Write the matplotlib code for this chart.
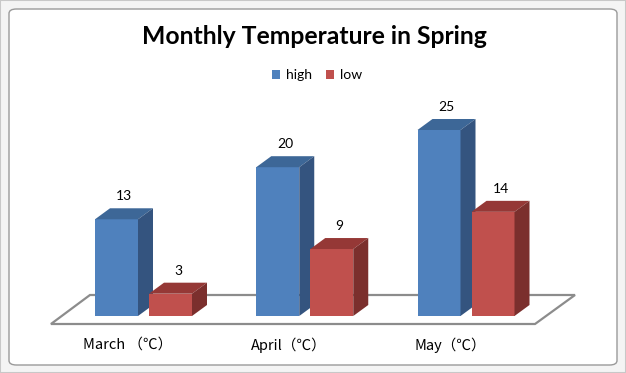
import numpy as np
import matplotlib.pyplot as plt
from matplotlib.patches import Polygon, FancyBboxPatch, Rectangle

# data
months = ['March （℃）', 'April（℃）', 'May（℃）']
high = [13, 20, 25]
low = [3, 9, 14]
series_names = ['high', 'low']

W, H = 626, 373
fig = plt.figure(figsize=(W / 100, H / 100), dpi=100)
fonts = ['Lato', 'Noto Sans CJK SC', 'DejaVu Sans']
cjk = ['Noto Sans CJK SC', 'DejaVu Sans']

# chart frame (excel style selection border)
fig.patches.append(Rectangle((0, 0), 1, 1, transform=fig.transFigure,
                             facecolor='#f4f4f4', edgecolor='#c8c8c8', lw=1.5, zorder=-2))
fig.patches.append(FancyBboxPatch((9 / W, 8 / H), 608 / W, 356 / H,
                                  boxstyle='round,pad=0,rounding_size=0.012',
                                  transform=fig.transFigure, facecolor='white',
                                  edgecolor='#9a9a9a', lw=1.0, zorder=-1))

ax = fig.add_axes([0, 0, 1, 1])
ax.patch.set_visible(False)
ax.set_axis_off()
# pixel mapping: category 0 centre at x=143.5px, 161.25 px per category;
# baseline at 316px from top, 7.44 px per degree
xpx, ypx = 161.25, 7.44
ax.set_xlim(-143.5 / xpx, (W - 143.5) / xpx)
ax.set_ylim(-(H - 316) / ypx, 316 / ypx)

x = np.arange(len(months))
bw = 43 / xpx
off = 27 / xpx
dx = 15 / xpx
dy = 11 / ypx

# floor
floor = Polygon([(-0.574, -8 / ypx), (2.428, -8 / ypx),
                 (2.676, 21 / ypx), (-0.332, 21 / ypx)],
                closed=True, facecolor='white', edgecolor='#8c8c8c', lw=1.6, zorder=2)
ax.add_patch(floor)

colors = {
    'high': ('#4f81bd', '#3d6797', '#34547f'),
    'low': ('#c0504d', '#953836', '#7b2f2d'),
}

for name, vals, sign in [('high', high, -1), ('low', low, 1)]:
    front, top, side = colors[name]
    xc = x + sign * off
    ax.bar(xc, vals, width=bw, color=front, zorder=3, label=name)
    for xi, v in zip(xc, vals):
        l, r = xi - bw / 2, xi + bw / 2
        ax.add_patch(Polygon([(l, v), (r, v), (r + dx, v + dy), (l + dx, v + dy)],
                             closed=True, facecolor=top, edgecolor='none', zorder=3))
        ax.add_patch(Polygon([(r, 0), (r + dx, dy), (r + dx, v + dy), (r, v)],
                             closed=True, facecolor=side, edgecolor='none', zorder=3))
        ax.text(xi + dx / 2, v + dy + 12 / ypx, str(v), ha='center', va='center',
                fontsize=10, family=fonts, color='black', zorder=4)

for xi, lab in zip(x, months):
    ax.text(xi - 16 / xpx, -29 / ypx, lab, ha='center', va='center',
            fontsize=10.5, family=cjk, color='black')

fig.text(314 / W, 1 - 37 / H, 'Monthly Temperature in Spring', ha='center', va='center',
         fontsize=17.8, fontweight='bold', family=fonts)

# legend
leg = ax.legend(loc='center', bbox_to_anchor=(317 / W, 1 - 75 / H), ncol=2,
                frameon=False, handlelength=0.6, handleheight=0.6, handletextpad=0.4,
                columnspacing=1.0, prop={'family': fonts, 'size': 10})

fig.savefig('out.png', dpi=100)
